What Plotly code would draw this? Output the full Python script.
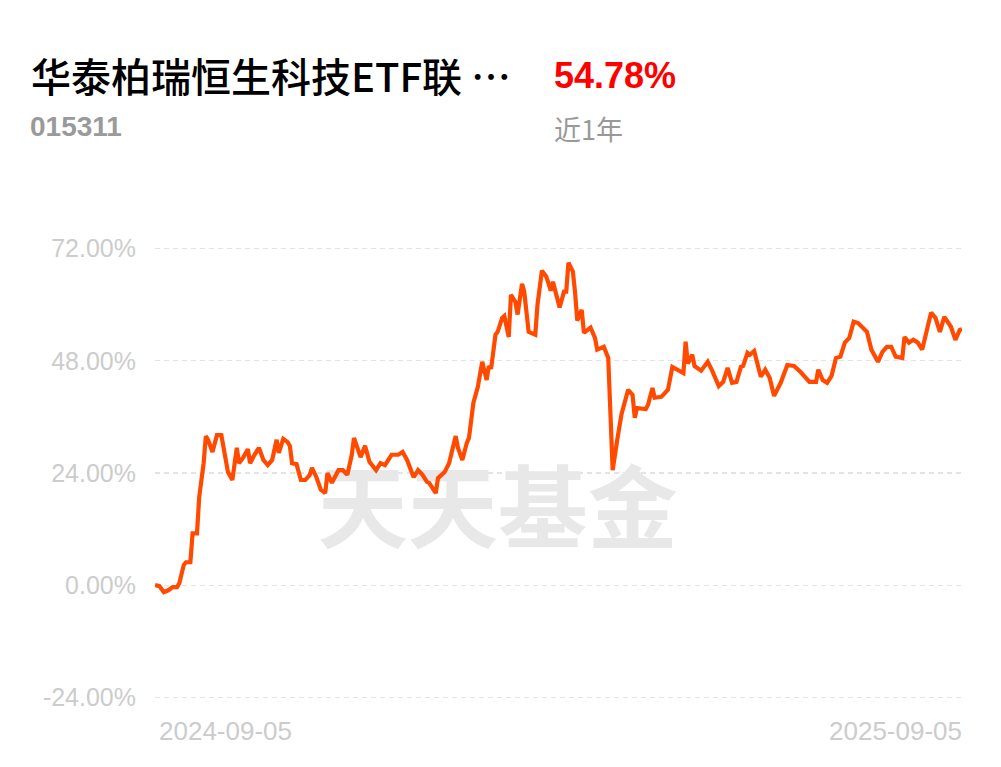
import pandas as pd
import plotly.graph_objects as go

# ---- data ----
start_date = "2024-09-05"
end_date = "2025-09-05"
day_offsets = [
    0, 2, 4, 6, 8, 10, 11, 13, 14, 16,
    17, 19, 20, 22, 23, 24, 26, 28, 30, 31,
    33, 35, 37, 38, 40, 42, 43, 45, 47, 49,
    51, 53, 55, 56, 58, 60, 61, 62, 64, 66,
    68, 70, 71, 73, 75, 77, 78, 80, 83, 85,
    87, 89, 90, 93, 95, 97, 100, 102, 104, 107,
    110, 112, 114, 117, 119, 121, 123, 124, 127, 128,
    131, 133, 136, 137, 139, 141, 142, 144, 146, 148,
    150, 151, 152, 154, 155, 157, 158, 160, 161, 163,
    164, 166, 167, 169, 172, 173, 175, 177, 179, 180,
    182, 183, 185, 186, 187, 189, 190, 191, 193, 194,
    197, 199, 200, 203, 205, 207, 209, 211, 214, 216,
    217, 218, 222, 223, 225, 226, 229, 232, 234, 236,
    237, 239, 240, 241, 243, 244, 247, 250, 252, 255,
    257, 259, 261, 263, 265, 266, 268, 269, 271, 272,
    274, 276, 278, 280, 283, 286, 289, 292, 294, 296,
    299, 300, 302, 304, 306, 308, 310, 312, 314, 316,
    318, 320, 322, 324, 327, 329, 331, 333, 335, 338,
    339, 341, 343, 345, 347, 351, 353, 355, 357, 360,
    362, 364, 365,
]
returns_pct = [
    0.0, -0.2, -1.5, -1.1, -0.4, -0.4, 0.4, 4.3, 4.9, 4.9,
    11.1, 11.1, 18.9, 26.1, 31.9, 31.1, 28.5, 32.1, 32.1, 29.6,
    24.2, 22.5, 29.4, 26.1, 27.4, 29.1, 26.1, 27.9, 29.4, 26.8,
    25.7, 26.8, 31.1, 28.3, 31.3, 30.6, 29.8, 26.1, 25.9, 22.5,
    22.5, 23.6, 25.1, 23.1, 20.4, 19.7, 24.0, 21.9, 24.6, 24.6,
    23.6, 27.9, 31.5, 27.4, 29.8, 26.4, 24.6, 26.1, 25.7, 27.9,
    27.9, 28.5, 26.8, 23.1, 24.6, 23.6, 22.1, 21.9, 19.7, 22.9,
    24.2, 26.1, 31.9, 29.4, 26.8, 30.4, 31.5, 39.0, 42.4, 47.8,
    43.9, 46.9, 46.3, 53.6, 54.2, 57.2, 57.6, 53.1, 62.1, 60.6,
    57.9, 64.5, 62.8, 54.2, 53.6, 60.0, 67.3, 66.0, 63.0, 64.9,
    61.7, 59.4, 62.8, 62.8, 69.0, 67.1, 62.6, 56.6, 58.9, 54.0,
    55.1, 52.9, 50.4, 51.0, 48.6, 24.6, 30.9, 36.6, 41.8, 40.7,
    35.8, 37.9, 37.7, 38.6, 42.2, 40.1, 40.3, 41.8, 46.7, 46.1,
    45.9, 45.4, 52.1, 47.4, 49.3, 46.9, 45.9, 47.8, 45.9, 42.6,
    43.5, 46.5, 43.3, 43.5, 46.7, 46.9, 49.7, 49.3, 50.1, 48.0,
    44.6, 46.1, 44.4, 40.5, 43.3, 47.1, 46.9, 45.6, 44.6, 43.5,
    43.5, 46.1, 43.9, 43.3, 44.8, 48.6, 48.9, 51.9, 52.9, 56.4,
    56.1, 55.1, 54.2, 50.4, 47.8, 49.9, 51.0, 51.0, 48.9, 48.6,
    53.1, 51.9, 52.5, 51.9, 50.4, 58.3, 57.2, 54.2, 57.4, 55.3,
    52.5, 54.6, 54.78,
]
y_ticks = [-24, 0, 24, 48, 72]
y_tick_labels = ["-24.00%", "0.00%", "24.00%", "48.00%", "72.00%"]
fund_name = "华泰柏瑞恒生科技ETF联 …"
fund_code = "015311"
period_return = "54.78%"
period_label = "近1年"
watermark = "天天基金"

assert len(day_offsets) == len(returns_pct)
dates = pd.Timestamp(start_date) + pd.to_timedelta(day_offsets, unit="D")

# ---- layout geometry (pixels) ----
W, H = 1001, 767
L, R = 155, 39
T, B = 244, 65
plot_w = W - L - R
plot_h = H - T - B


def px(x):
    return (x - L) / plot_w


def py(y):
    return (H - B - y) / plot_h


fig = go.Figure()

# watermark behind the line
fig.add_trace(go.Scatter(
    x=[pd.Timestamp("2025-02-07")], y=[14.2], mode="text", text=[watermark],
    textfont=dict(family="Noto Sans CJK SC", size=90, color="#e8e8e8", weight=700),
    hoverinfo="skip", showlegend=False,
))

fig.add_trace(go.Scatter(
    x=dates, y=returns_pct, mode="lines",
    line=dict(color="#ff4a00", width=4.2, shape="linear"),
    hoverinfo="skip", showlegend=False,
))

fig.update_layout(
    width=W, height=H,
    margin=dict(l=L, r=R, t=T, b=B),
    paper_bgcolor="white", plot_bgcolor="white",
    showlegend=False,
    font=dict(family="Liberation Sans, Arial, sans-serif"),
)
fig.update_xaxes(
    range=[pd.Timestamp(start_date), pd.Timestamp(end_date)],
    showgrid=False, showticklabels=False, zeroline=False, showline=False, ticks="",
)
fig.update_yaxes(
    range=[-25, 73], tickvals=y_ticks, ticktext=y_tick_labels,
    showgrid=True, gridcolor="#e3e3e3", gridwidth=1.3, griddash="5px,4px",
    zeroline=False, showline=False, ticks="", ticklabelstandoff=18,
    tickfont=dict(family="Liberation Sans, Arial, sans-serif", size=25, color="#cccccc"),
)

annotations = [
    dict(text=fund_name, x=px(29), y=py(75), xanchor="left", yanchor="middle",
         font=dict(family="Noto Sans CJK SC", size=40, color="#000000", weight=500)),
    dict(text=period_return, x=px(552), y=py(75), xanchor="left", yanchor="middle",
         font=dict(family="Liberation Sans, Arial", size=36, color="#ff0000", weight=700)),
    dict(text=fund_code, x=px(28), y=py(127), xanchor="left", yanchor="middle",
         font=dict(family="Liberation Sans, Arial", size=28, color="#9a9a9a", weight=700)),
    dict(text=period_label, x=px(552), y=py(128), xanchor="left", yanchor="middle",
         font=dict(family="Noto Sans CJK SC", size=27, color="#999999")),
    dict(text=start_date, x=px(157), y=py(731), xanchor="left", yanchor="middle",
         font=dict(family="Liberation Sans, Arial", size=26, color="#cccccc")),
    dict(text=end_date, x=px(964), y=py(731), xanchor="right", yanchor="middle",
         font=dict(family="Liberation Sans, Arial", size=26, color="#cccccc")),
]
for a in annotations:
    a.update(xref="paper", yref="paper", showarrow=False)
fig.update_layout(annotations=annotations)

fig.write_html(
    "out.html",
    config={"displayModeBar": False, "staticPlot": True},
    post_script="document.body.style.margin='0';",
)
